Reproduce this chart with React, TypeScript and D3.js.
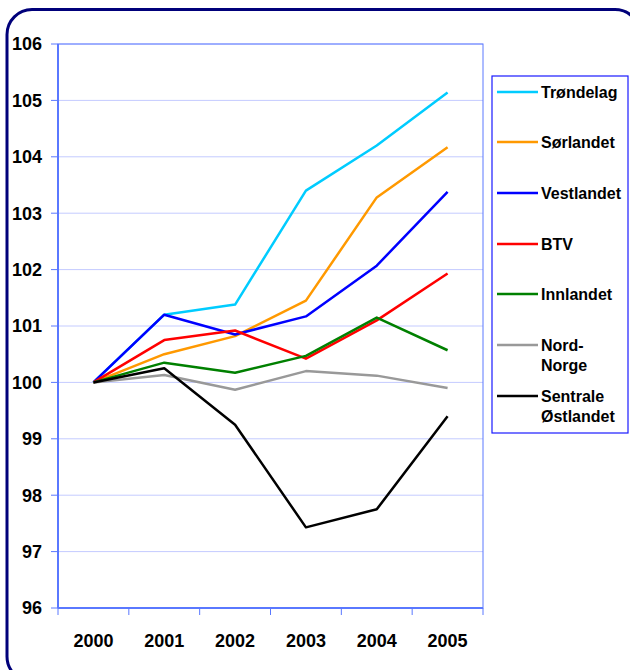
import React from "react";
import * as d3 from "d3";

const years = ["2000", "2001", "2002", "2003", "2004", "2005"];
const yTicks = [96, 97, 98, 99, 100, 101, 102, 103, 104, 105, 106];

const seriesNames = ["Trøndelag", "Sørlandet", "Vestlandet", "BTV", "Innlandet", "Nord-Norge", "Sentrale Østlandet"];
const legendLabels = [["Trøndelag"], ["Sørlandet"], ["Vestlandet"], ["BTV"], ["Innlandet"], ["Nord-", "Norge"], ["Sentrale", "Østlandet"]];
const seriesColors = ["#00ccff", "#ff9900", "#0000ff", "#ff0000", "#008000", "#999999", "#000000"];

const trondelag = [100, 101.2, 101.38, 103.4, 104.2, 105.14];
const sorlandet = [100, 100.5, 100.82, 101.45, 103.28, 104.17];
const vestlandet = [100, 101.2, 100.85, 101.17, 102.07, 103.38];
const btv = [100, 100.75, 100.92, 100.42, 101.1, 101.93];
const innlandet = [100, 100.35, 100.17, 100.47, 101.15, 100.57];
const nordNorge = [100, 100.13, 99.87, 100.2, 100.12, 99.9];
const sentrale = [100, 100.25, 99.25, 97.43, 97.75, 99.4];

const seriesValues = [trondelag, sorlandet, vestlandet, btv, innlandet, nordNorge, sentrale];

export default function App() {
  const W = 630, H = 670;
  const left = 58, right = 483, top = 44, bottom = 608;
  const x = d3.scaleBand<string>().domain(years).range([left, right]);
  const y = d3.scaleLinear().domain([96, 106]).range([bottom, top]);
  const line = d3.line<number>()
    .x((_, i) => (x(years[i]) as number) + x.bandwidth() / 2)
    .y((d) => y(d));
  const font = "'Liberation Sans', Arial, sans-serif";
  const axisColor = "#5a78ff";
  const legendY = [92, 142, 193, 244, 294, 345, 396];
  return (
    <svg width={W} height={H} style={{ position: "absolute", left: 0, top: 0 }}>
      <rect x={0} y={0} width={W} height={H} fill="#fff" />
      <rect x={7} y={9.5} width={633} height={672} rx={25} ry={25} fill="#fff" stroke="#00007a" strokeWidth={3} />
      {yTicks.map((t) => (
        <g key={t}>
          <line x1={left} x2={right} y1={y(t)} y2={y(t)} stroke="#c4cbff" strokeWidth={1} />
          <line x1={left - 7} x2={left} y1={y(t)} y2={y(t)} stroke={axisColor} strokeWidth={1} />
          <text x={42} y={y(t)} dy="0.36em" textAnchor="end" fontFamily={font} fontWeight="bold" fontSize={18} fill="#000">{t}</text>
        </g>
      ))}
      <rect x={left} y={top} width={right - left} height={bottom - top} fill="none" stroke={axisColor} strokeWidth={1} />
      <line x1={left} x2={right} y1={bottom} y2={bottom} stroke={axisColor} strokeWidth={2} />
      <line x1={left} x2={left} y1={top} y2={bottom} stroke={axisColor} strokeWidth={2} />
      {[...years.map((yr) => x(yr) as number), right].map((px, i) => (
        <line key={i} x1={px} x2={px} y1={bottom} y2={bottom + 7} stroke={axisColor} strokeWidth={1} />
      ))}
      {years.map((yr) => (
        <text key={yr} x={(x(yr) as number) + x.bandwidth() / 2} y={646.5} textAnchor="middle" fontFamily={font} fontWeight="bold" fontSize={18} fill="#000">{yr}</text>
      ))}
      {seriesValues.map((vals, i) => (
        <path key={seriesNames[i]} d={line(vals) as string} fill="none" stroke={seriesColors[i]} strokeWidth={2.5} strokeLinejoin="round" />
      ))}
      <rect x={492} y={76} width={136} height={357} fill="#fff" stroke="#1a1aff" strokeWidth={1.2} />
      {legendLabels.map((lbl, i) => (
        <g key={i}>
          <line x1={497} x2={538} y1={legendY[i]} y2={legendY[i]} stroke={seriesColors[i]} strokeWidth={2.5} />
          {lbl.map((s, j) => (
            <text key={j} x={541} y={legendY[i] + j * 20} dy="0.36em" fontFamily={font} fontWeight="bold" fontSize={16} fill="#000">{s}</text>
          ))}
        </g>
      ))}
    </svg>
  );
}
